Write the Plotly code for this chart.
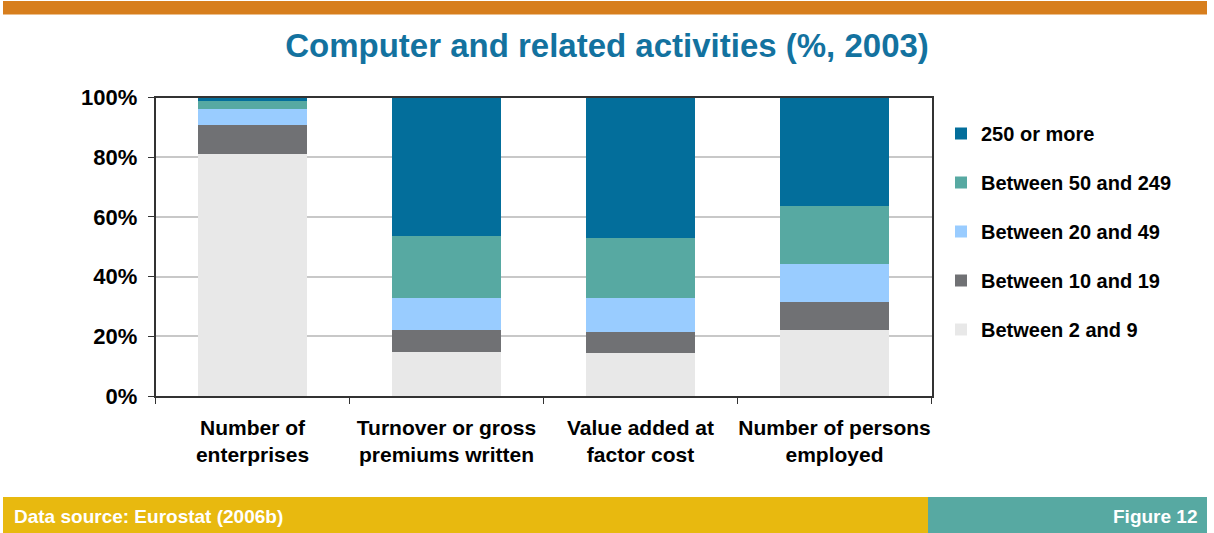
import plotly.graph_objects as go

W, H = 1214, 533

categories = [
    "Number of<br>enterprises",
    "Turnover or gross<br>premiums written",
    "Value added at<br>factor cost",
    "Number of persons<br>employed",
]

# Size classes (persons employed), bottom to top of each stack
size_classes = [
    "Between 2 and 9",
    "Between 10 and 19",
    "Between 20 and 49",
    "Between 50 and 249",
    "250 or more",
]

share_2_9 = [81.2, 14.6, 14.3, 22.1]
share_10_19 = [9.7, 7.5, 7.1, 9.4]
share_20_49 = [5.3, 10.8, 11.5, 12.7]
share_50_249 = [2.7, 20.6, 19.9, 19.6]
share_250_plus = [1.1, 46.5, 47.2, 36.2]

series_values = [share_2_9, share_10_19, share_20_49, share_50_249, share_250_plus]
colors = ["#E8E8E8", "#707174", "#99CCFF", "#57A9A2", "#036E9B"]

y_ticks = [0, 20, 40, 60, 80, 100]
y_tick_labels = ["0%", "20%", "40%", "60%", "80%", "100%"]

FONT = "Liberation Sans, Arial, sans-serif"


def px_x(x):
    return x / W


def px_y(y):
    return 1 - y / H


fig = go.Figure()
n = len(size_classes)
for i, (name, vals, col) in enumerate(zip(size_classes, series_values, colors)):
    fig.add_trace(go.Bar(
        x=categories, y=vals, name="<b>%s</b>" % name, legendgroup=name,
        legendrank=n - i,
        marker=dict(color=col, line=dict(width=0)),
        hovertemplate=name + ": %{y}%<extra></extra>",
    ))

fig.update_layout(
    width=W, height=H, autosize=False,
    margin=dict(l=0, r=0, t=0, b=0, autoexpand=False),
    paper_bgcolor="white", plot_bgcolor="white",
    barmode="stack", bargap=0.44,
    font=dict(family=FONT, color="black"),
    title=dict(
        text="<b>Computer and related activities (%, 2003)</b>",
        x=0.5, xanchor="center", y=px_y(45), yanchor="middle",
        font=dict(size=33, color="#13729F", family=FONT),
    ),
    xaxis=dict(
        domain=[px_x(155.5), px_x(931.5)],
        automargin=False,
        showline=True, linecolor="#333333", linewidth=1.5, mirror=True,
        ticks="outside", tickson="boundaries", ticklen=6, tickcolor="#333333",
        tickvals=categories, ticktext=["<b>%s</b>" % c for c in categories],
        tickangle=0,
        tickfont=dict(size=21, family=FONT, color="black"),
        ticklabelstandoff=12,
        showgrid=False,
    ),
    yaxis=dict(
        domain=[px_y(396), px_y(97.5)],
        automargin=False,
        range=[0, 100],
        tickvals=y_ticks, ticktext=["<b>%s</b>" % t for t in y_tick_labels],
        showline=True, linecolor="#333333", linewidth=1.5, mirror=True,
        ticks="outside", ticklen=6, tickcolor="#333333",
        tickfont=dict(size=22, family=FONT, color="black"),
        ticklabelstandoff=6,
        showgrid=True, gridcolor="#C8C8C8", gridwidth=1.5,
        zeroline=False,
    ),
    legend=dict(
        x=px_x(941), y=px_y(114), xanchor="left", yanchor="top",
        traceorder="grouped", tracegroupgap=20,
        font=dict(size=20, family=FONT, color="black"),
        itemwidth=30,
        bgcolor="rgba(0,0,0,0)",
    ),
)

# Decorative bands: orange header strip, yellow source strip, teal figure tag
fig.add_shape(type="rect", xref="paper", yref="paper",
              x0=px_x(3), x1=px_x(1207), y0=px_y(14.5), y1=px_y(1),
              fillcolor="#D77E1D", line=dict(width=0), layer="below")
fig.add_shape(type="rect", xref="paper", yref="paper",
              x0=px_x(3), x1=px_x(928), y0=px_y(533), y1=px_y(497),
              fillcolor="#E8B90F", line=dict(width=0), layer="below")
fig.add_shape(type="rect", xref="paper", yref="paper",
              x0=px_x(928), x1=px_x(1207), y0=px_y(533), y1=px_y(497),
              fillcolor="#57A9A2", line=dict(width=0), layer="below")

fig.add_annotation(text="<b>Data source: Eurostat (2006b)</b>", xref="paper", yref="paper",
                   x=px_x(12), y=px_y(516), xanchor="left", yanchor="middle",
                   showarrow=False, font=dict(size=19, color="white", family=FONT))
fig.add_annotation(text="<b>Figure 12</b>", xref="paper", yref="paper",
                   x=px_x(1199), y=px_y(516), xanchor="right", yanchor="middle",
                   showarrow=False, font=dict(size=19, color="white", family=FONT))

fig.write_html("out.html")
